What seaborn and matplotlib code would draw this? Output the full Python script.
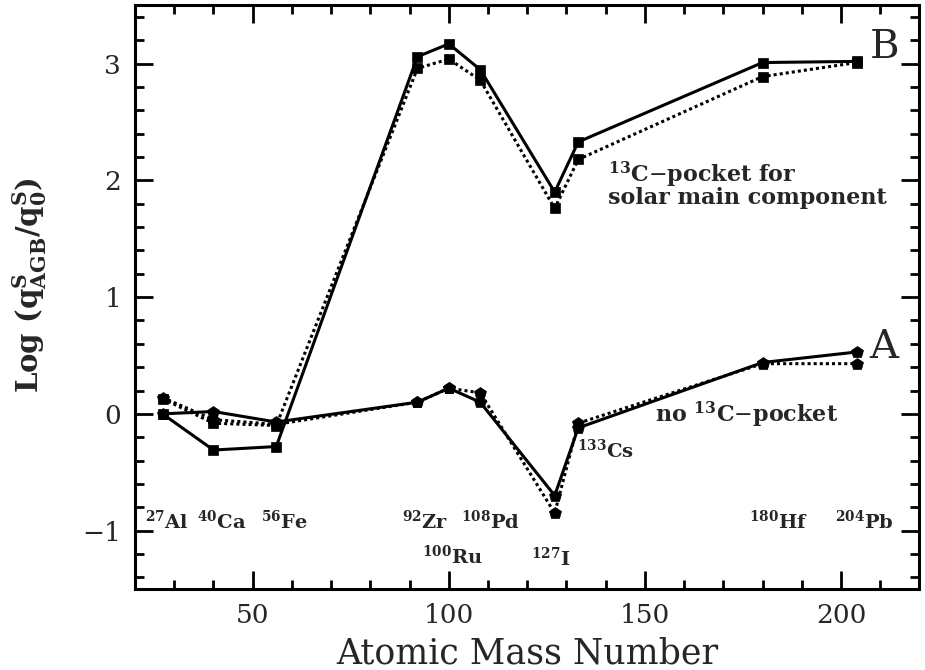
import numpy as np
import pandas as pd
import matplotlib
matplotlib.use('Agg')
import matplotlib.pyplot as plt
from matplotlib.ticker import MultipleLocator
import seaborn as sns

# atomic mass of the s-process nuclei
mass = [27, 40, 56, 92, 100, 108, 127, 133, 180, 204]

# case B: 13C-pocket for solar main component
b_solid = [0.00, -0.31, -0.28, 3.06, 3.17, 2.95, 1.90, 2.33, 3.01, 3.02]
b_dotted = [0.13, -0.08, -0.10, 2.96, 3.04, 2.86, 1.76, 2.18, 2.89, 3.01]

# case A: no 13C-pocket
a_solid = [0.00, 0.02, -0.07, 0.10, 0.22, 0.10, -0.70, -0.12, 0.44, 0.53]
a_dotted = [0.14, -0.05, -0.09, 0.10, 0.22, 0.18, -0.85, -0.08, 0.43, 0.43]

nuclei = ['27Al', '40Ca', '56Fe', '92Zr', '100Ru', '108Pd', '127I', '133Cs', '180Hf', '204Pb']

sns.set_theme(style='ticks')
plt.rcParams['font.family'] = ['DejaVu Serif']
plt.rcParams['mathtext.fontset'] = 'dejavuserif'

fig = plt.figure(figsize=(9.25, 6.7), dpi=100)
ax = fig.add_axes([0.146, 0.121, 0.848, 0.871])

dots = (0, (1.0, 1.0))
series = [
    (b_dotted, dots, 's', 7.5),
    (b_solid, '-', 's', 7.5),
    (a_dotted, dots, 'p', 9),
    (a_solid, '-', 'p', 9),
]
for vals, ls, mk, ms in series:
    sns.lineplot(
        x=mass, y=vals, ax=ax,
        color='black', linestyle=ls, linewidth=2.2,
        marker=mk, markersize=ms,
        markeredgecolor='black', markeredgewidth=0.5
    )

ax.set_xlim(20, 220)
ax.set_ylim(-1.5, 3.5)
ax.xaxis.set_major_locator(MultipleLocator(50))
ax.xaxis.set_minor_locator(MultipleLocator(10))
ax.yaxis.set_major_locator(MultipleLocator(1))
ax.yaxis.set_minor_locator(MultipleLocator(0.2))

ax.tick_params(which='both', direction='in', top=True, right=True,
               width=2, color='black', labelsize=19, pad=10)
ax.tick_params(which='major', length=13)
ax.tick_params(which='minor', length=6.5)
for sp in ax.spines.values():
    sp.set_linewidth(2.2)
    sp.set_color('black')

ax.set_xlabel('Atomic Mass Number', fontsize=25, labelpad=6)
ax.set_ylabel(r'Log (q$^{\mathbf{S}}_{\mathbf{AGB}}$/q$^{\mathbf{S}}_{\mathbf{0}}$)',
              fontsize=21, fontweight='bold')
ax.yaxis.set_label_coords(-0.11, 0.52)


def iso(name):
    num = ''.join(c for c in name if c.isdigit())
    sym = ''.join(c for c in name if c.isalpha())
    return r'$^{\mathbf{' + num + r'}}$' + sym


label_pos = {
    '27Al': (28, -0.92), '40Ca': (42, -0.92), '56Fe': (58, -0.92),
    '92Zr': (94, -0.92), '100Ru': (101, -1.22), '108Pd': (110.5, -0.92),
    '127I': (126, -1.24), '133Cs': (140, -0.31), '180Hf': (184, -0.92),
    '204Pb': (206, -0.92),
}
for nm in nuclei:
    x, y = label_pos[nm]
    ax.text(x, y, iso(nm), fontsize=14, fontweight='bold',
            ha='center', va='center')

ax.text(211, 3.14, 'B', fontsize=29, ha='center', va='center')
ax.text(211, 0.57, 'A', fontsize=29, ha='center', va='center')

ax.text(140.5, 2.05, r'$^{\mathbf{13}}$C$-$pocket for', fontsize=16,
        fontweight='bold', ha='left', va='center')
ax.text(140.5, 1.85, 'solar main component', fontsize=16,
        fontweight='bold', ha='left', va='center')
ax.text(152.5, -0.01, r'no $^{\mathbf{13}}$C$-$pocket', fontsize=16,
        fontweight='bold', ha='left', va='center')

fig.savefig('out.png', dpi=100)
